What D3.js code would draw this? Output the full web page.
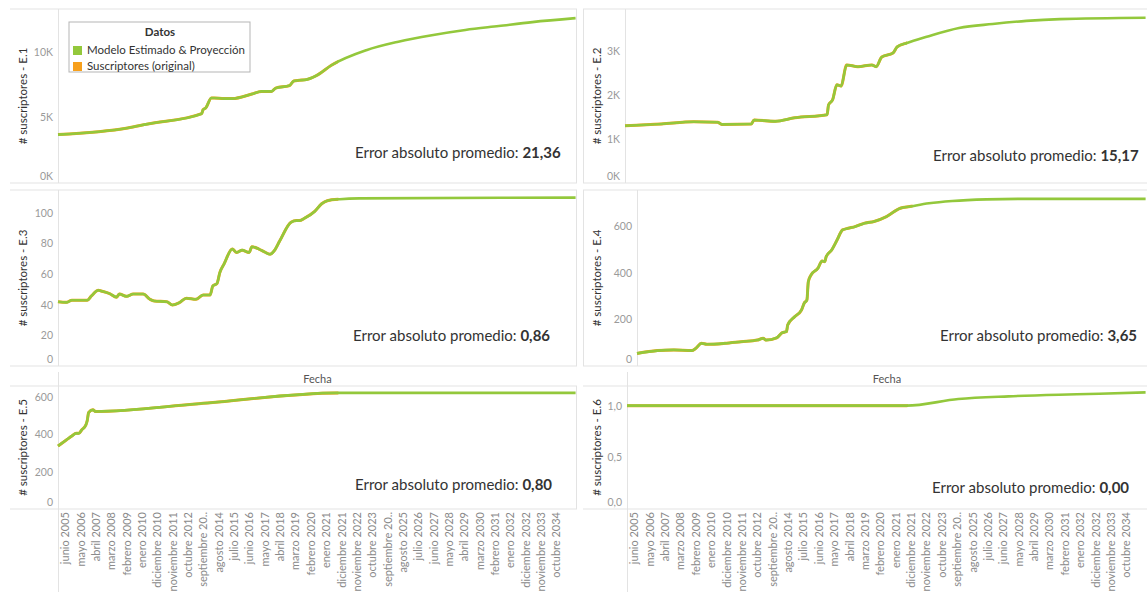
<!DOCTYPE html>
<html>
<head>
<meta charset="utf-8">
<script src="https://cdn.jsdelivr.net/npm/d3@7"></script>
<style>
  body { margin: 0; background: #fff; }
  svg { display: block; font-family: Lato, "Open Sans", sans-serif; }
</style>
</head>
<body>
<svg id="chart" width="1147" height="592"></svg>
<script>
// ---- data -------------------------------------------------------------
const monthNames = ["enero", "febrero", "marzo", "abril", "mayo", "junio", "julio",
  "agosto", "septiembre", "octubre", "noviembre", "diciembre"];

// months shown on the Fecha axis (one every 11 months)
const xTickMonths = ["2005-06", "2006-05", "2007-04", "2008-03", "2009-02", "2010-01",
  "2010-12", "2011-11", "2012-10", "2013-09", "2014-08", "2015-07", "2016-06", "2017-05",
  "2018-04", "2019-03", "2020-02", "2021-01", "2021-12", "2022-11", "2023-10", "2024-09",
  "2025-08", "2026-07", "2027-06", "2028-05", "2029-04", "2030-03", "2031-02", "2032-01",
  "2032-12", "2033-11", "2034-10"];

const panelNames = ["E.1", "E.2", "E.3", "E.4", "E.5", "E.6"];
const errorValues = [21.36, 15.17, 0.86, 3.65, 0.80, 0.00];
const historyEnd = "2021-10";

const serieE1 = [["2005-01", 3700], ["2009-03", 4200], ["2010-05", 4500], ["2013-08", 5300],
  ["2013-09", 5600], ["2013-11", 5750], ["2014-03", 6500], ["2014-05", 6500], ["2014-12", 6450],
  ["2015-06", 6450], ["2016-08", 6800], ["2017-03", 7000], ["2017-10", 7000], ["2018-01", 7250],
  ["2018-11", 7450], ["2019-02", 7800], ["2019-06", 7850], ["2019-11", 7900], ["2020-06", 8200],
  ["2021-05", 9000], ["2023-06", 10150], ["2025-05", 10800], ["2027-05", 11300],
  ["2029-05", 11700], ["2031-05", 12000], ["2033-05", 12300], ["2035-12", 12600]];

const serieE2 = [["2005-01", 1300], ["2007-03", 1340], ["2009-02", 1390], ["2010-07", 1380],
  ["2010-10", 1330], ["2012-07", 1340], ["2012-09", 1430], ["2013-12", 1400], ["2015-02", 1480],
  ["2017-01", 1550], ["2017-02", 1770], ["2017-05", 1890], ["2017-08", 2230], ["2017-11", 2200],
  ["2018-03", 2680], ["2018-11", 2640], ["2019-09", 2680], ["2019-12", 2640], ["2020-04", 2860],
  ["2020-12", 2950], ["2021-03", 3090], ["2021-10", 3180], ["2022-12", 3320], ["2024-11", 3520],
  ["2026-11", 3610], ["2028-11", 3680], ["2030-11", 3720], ["2035-12", 3750]];

const serieE3 = [["2005-01", 42], ["2005-07", 41.6], ["2005-11", 43], ["2006-10", 43],
  ["2007-01", 45.8], ["2007-06", 49.5], ["2007-08", 49], ["2008-02", 47.3], ["2008-07", 45],
  ["2008-09", 47], ["2009-02", 45.5], ["2009-07", 47], ["2010-02", 47], ["2010-07", 43.6],
  ["2010-10", 42.5], ["2011-07", 42], ["2011-11", 39.9], ["2012-04", 41.4], ["2012-09", 44.3],
  ["2013-04", 43.6], ["2013-09", 46.4], ["2014-02", 46.4], ["2014-04", 52.3], ["2014-07", 53.9],
  ["2014-09", 61], ["2014-12", 66.6], ["2015-06", 76.4], ["2015-09", 74.2], ["2016-01", 75.7],
  ["2016-06", 74.2], ["2016-08", 77.9], ["2017-01", 76.4], ["2017-05", 74.6], ["2017-09", 73],
  ["2017-12", 75.3], ["2018-04", 81.8], ["2018-12", 93.9], ["2019-04", 95], ["2019-06", 95],
  ["2019-10", 96.7], ["2020-05", 101], ["2020-10", 106], ["2021-02", 108], ["2021-11", 109],
  ["2023-01", 109.5], ["2035-12", 110]];

const serieE4 = [["2005-01", 54], ["2006-04", 66], ["2007-04", 69], ["2008-05", 66],
  ["2008-08", 76], ["2008-12", 97], ["2009-04", 93], ["2010-05", 97], ["2011-05", 104],
  ["2012-05", 111], ["2012-09", 119], ["2012-11", 111], ["2013-07", 121], ["2013-11", 143],
  ["2014-02", 147], ["2014-03", 176], ["2014-08", 211], ["2015-01", 240], ["2015-03", 269],
  ["2015-05", 283], ["2015-06", 361], ["2015-08", 390], ["2016-01", 419], ["2016-04", 450],
  ["2016-06", 447], ["2016-07", 468], ["2016-11", 497], ["2017-03", 540], ["2017-07", 583],
  ["2017-11", 590], ["2018-04", 597], ["2018-11", 612], ["2019-06", 619], ["2020-03", 640],
  ["2021-01", 676], ["2021-08", 683], ["2022-10", 697], ["2024-03", 707], ["2026-04", 714],
  ["2028-04", 716], ["2035-12", 716]];

const serieE5 = [["2005-01", 338], ["2005-07", 370], ["2005-11", 392], ["2006-02", 406],
  ["2006-04", 406], ["2006-06", 424], ["2006-09", 451], ["2006-10", 475], ["2006-11", 518],
  ["2007-02", 532], ["2007-04", 523], ["2013-06", 565], ["2021-10", 623], ["2035-12", 623]];

const serieE6 = [["2005-01", 1.0], ["2021-09", 1.0], ["2024-10", 1.064], ["2027-10", 1.09],
  ["2030-10", 1.106], ["2033-03", 1.115], ["2035-12", 1.128]];

const seriesList = [serieE1, serieE2, serieE3, serieE4, serieE5, serieE6];

// y ticks per panel
const yTicksList = [[0, 5000, 10000], [0, 1000, 2000, 3000], [0, 20, 40, 60, 80, 100],
  [0, 200, 400, 600], [0, 200, 400, 600], [0, 0.5, 1]];

// ---- layout -----------------------------------------------------------
const COLORS = { model: "#93c83c", original: "#f7a01c", grid: "#e3e3e3",
  tick: "#9a9a9a", text: "#333333", xlab: "#8a8a8a" };

const rowTop = [9, 190, 386];
const rowBottom = [183, 366, 509];
const colLeft = [10, 583];
const colRight = [577, 1147];

const panelLayout = [
  { col: 0, row: 0, axisX: 58,  yMax: 13300, kFmt: true,  errX: 355, errY: 158, titleX: 23 },
  { col: 1, row: 0, axisX: 625, yMax: 3950,  kFmt: true,  errX: 933, errY: 161, titleX: 597 },
  { col: 0, row: 1, axisX: 58,  yMax: 115,   kFmt: false, errX: 353, errY: 341, titleX: 23 },
  { col: 1, row: 1, axisX: 637, yMax: 754,   kFmt: false, errX: 940, errY: 341, titleX: 597 },
  { col: 0, row: 2, axisX: 58,  yMax: 660,   kFmt: false, errX: 355, errY: 490, titleX: 23 },
  { col: 1, row: 2, axisX: 627, yMax: 1.19,  kFmt: false, errX: 932, errY: 493, titleX: 597 }
];

const parseMonth = d3.timeParse("%Y-%m");
const xDomain = [new Date(2005, 0, 1), new Date(2036, 0, 1)];
const decFmt = v => d3.format(".2f")(v).replace(".", ",");

const svg = d3.select("#chart");
const defs = svg.append("defs");

function monthLabel(d) {
  const s = monthNames[d.getMonth()] + " " + d.getFullYear();
  return s.length > 14 ? s.slice(0, 13) + ".." : s;
}

panelLayout.forEach((p, i) => {
  const top = rowTop[p.row], bottom = rowBottom[p.row];
  const left = colLeft[p.col], right = colRight[p.col];
  const data = seriesList[i].map(([m, v]) => ({ date: parseMonth(m), value: v }));
  const x = d3.scaleTime().domain(xDomain).range([p.axisX, right]);
  const y = d3.scaleLinear().domain([0, p.yMax]).range([bottom, top]);
  const g = svg.append("g");

  // frame lines
  g.append("line").attr("x1", left).attr("x2", right).attr("y1", top).attr("y2", top)
    .attr("stroke", COLORS.grid);
  g.append("line").attr("x1", left).attr("x2", right).attr("y1", bottom).attr("y2", bottom)
    .attr("stroke", COLORS.grid);
  if (p.col === 0) {
    g.append("line").attr("x1", right - 0.5).attr("x2", right - 0.5).attr("y1", top).attr("y2", bottom)
      .attr("stroke", COLORS.grid);
  } else if (p.row < 2) {
    g.append("line").attr("x1", left + 0.5).attr("x2", left + 0.5).attr("y1", top).attr("y2", bottom)
      .attr("stroke", COLORS.grid);
  }
  // y axis rule
  g.append("line").attr("x1", p.axisX + 0.5).attr("x2", p.axisX + 0.5)
    .attr("y1", p.row === 2 ? 372 : top).attr("y2", p.row === 2 ? 592 : bottom)
    .attr("stroke", COLORS.grid);

  // y axis
  const yAxis = d3.axisLeft(y).tickValues(yTicksList[i]).tickSize(0).tickPadding(5)
    .tickFormat(v => p.kFmt ? (v / 1000) + "K" : (p.yMax < 2 ? d3.format(".1f")(v).replace(".", ",") : v));
  const ya = g.append("g").attr("transform", `translate(${p.axisX},0)`).call(yAxis);
  ya.select(".domain").remove();
  ya.selectAll("text").attr("fill", COLORS.tick).style("font-size", "10.5px")
    .style("font-family", "Lato, sans-serif")
    .attr("dy", v => v === 0 ? "-0.35em" : "0.32em");

  // y title
  g.append("text")
    .attr("transform", `translate(${p.titleX},${(top + bottom) / 2}) rotate(-90)`)
    .attr("text-anchor", "middle").attr("dy", "0.35em")
    .attr("fill", COLORS.text).style("font-size", "11.5px")
    .text("# suscriptores - " + panelNames[i]);

  // lines: original (history only, same geometry clipped) under the model
  const line = d3.line().x(d => x(d.date)).y(d => y(d.value)).curve(d3.curveMonotoneX);
  const clipId = "hist-" + i;
  defs.append("clipPath").attr("id", clipId).append("rect")
    .attr("x", p.axisX - 3).attr("y", top - 5)
    .attr("width", x(parseMonth(historyEnd)) - p.axisX + 3).attr("height", bottom - top + 10);
  g.append("path").datum(data).attr("d", line).attr("fill", "none")
    .attr("clip-path", `url(#${clipId})`)
    .attr("stroke", COLORS.original).attr("stroke-width", 3.0).attr("stroke-linejoin", "round");
  g.append("path").datum(data).attr("d", line).attr("fill", "none")
    .attr("stroke", COLORS.model).attr("stroke-width", 2.6).attr("stroke-linejoin", "round");

  // error annotation
  const t = g.append("text").attr("x", p.errX).attr("y", p.errY)
    .attr("fill", COLORS.text).style("font-size", "15px");
  t.append("tspan").text("Error absoluto promedio: ");
  t.append("tspan").style("font-weight", "bold").text(decFmt(errorValues[i]));

  // Fecha header and x axis on the bottom row
  if (p.row === 2) {
    g.append("text").attr("x", (p.axisX + right) / 2).attr("y", 383)
      .attr("text-anchor", "middle").attr("fill", "#555").style("font-size", "11px").text("Fecha");
    const xAxis = d3.axisBottom(x).tickValues(xTickMonths.map(parseMonth))
      .tickSize(0).tickFormat(monthLabel);
    const xa = g.append("g").attr("transform", `translate(0,${bottom})`).call(xAxis);
    xa.select(".domain").remove();
    xa.selectAll("text")
      .attr("transform", "rotate(-90)")
      .attr("x", -3).attr("y", 0).attr("dy", "0.35em")
      .attr("text-anchor", "end")
      .attr("fill", COLORS.xlab).style("font-size", "11px").style("font-family", "Lato, sans-serif");
  }
});

// legend
const legendItems = ["Modelo Estimado & Proyección", "Suscriptores (original)"];
const legendColors = [COLORS.model, COLORS.original];
const lg = svg.append("g").attr("transform", "translate(69,22)");
lg.append("rect").attr("width", 181).attr("height", 50).attr("fill", "#fff")
  .attr("stroke", "#b5b5b5");
lg.append("text").attr("x", 91).attr("y", 14).attr("text-anchor", "middle")
  .attr("fill", COLORS.text).style("font-size", "11.5px").style("font-weight", "bold").text("Datos");
legendItems.forEach((name, k) => {
  lg.append("rect").attr("x", 4).attr("y", 24 + k * 16).attr("width", 9).attr("height", 9)
    .attr("fill", legendColors[k]);
  lg.append("text").attr("x", 18).attr("y", 32 + k * 16).attr("fill", COLORS.text)
    .style("font-size", "11.5px").text(name);
});
</script>
</body>
</html>
